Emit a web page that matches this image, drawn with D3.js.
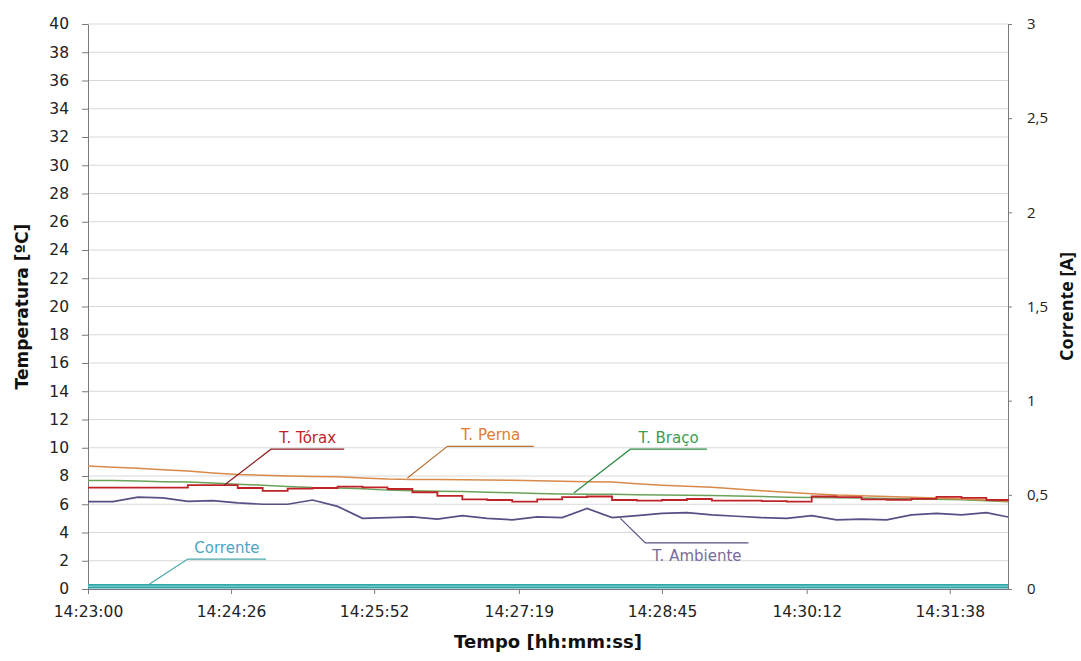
<!DOCTYPE html>
<html>
<head>
<meta charset="utf-8">
<script src="https://cdn.jsdelivr.net/npm/d3@7"></script>
<style>
  body { margin: 0; background: #fff; }
  svg { display: block; }
  .grid line { stroke: #d9d9d9; }
  .axis path, .axis line { stroke: #7a7a7a; }
  .axis text { fill: #222; }
</style>
</head>
<body>
<script>
// sample times (every 15 s)
var times = ["14:23:00","14:23:15","14:23:30","14:23:45","14:24:00","14:24:15","14:24:30","14:24:45",
  "14:25:00","14:25:15","14:25:30","14:25:45","14:26:00","14:26:15","14:26:30","14:26:45",
  "14:27:00","14:27:15","14:27:30","14:27:45","14:28:00","14:28:15","14:28:30","14:28:45",
  "14:29:00","14:29:15","14:29:30","14:29:45","14:30:00","14:30:15","14:30:30","14:30:45",
  "14:31:00","14:31:15","14:31:30","14:31:45","14:32:00","14:32:13"];

var tPerna = [8.70,8.62,8.55,8.45,8.35,8.22,8.10,8.05,8.00,7.96,7.95,7.85,7.78,7.76,7.75,7.73,
  7.72,7.70,7.66,7.62,7.60,7.58,7.45,7.35,7.28,7.20,7.08,6.95,6.85,6.75,6.65,6.60,
  6.55,6.50,6.45,6.38,6.30,6.22];
var tBraco = [7.68,7.68,7.65,7.60,7.58,7.50,7.42,7.35,7.25,7.18,7.15,7.10,7.00,6.96,6.92,6.90,
  6.85,6.82,6.76,6.72,6.70,6.70,6.68,6.66,6.64,6.62,6.58,6.55,6.50,6.48,6.46,6.44,
  6.40,6.38,6.36,6.32,6.25,6.18];
var tTorax = [7.17,7.17,7.17,7.17,7.36,7.36,7.15,6.94,7.10,7.15,7.25,7.20,7.08,6.85,6.60,6.35,
  6.30,6.18,6.35,6.50,6.55,6.30,6.25,6.30,6.37,6.25,6.25,6.22,6.18,6.55,6.50,6.35,
  6.32,6.38,6.52,6.45,6.30,6.25];
var tAmbiente = [6.18,6.18,6.50,6.45,6.20,6.25,6.10,6.00,6.00,6.30,5.85,5.00,5.05,5.10,4.95,5.20,
  5.00,4.90,5.10,5.05,5.70,5.05,5.20,5.35,5.40,5.25,5.15,5.05,5.00,5.20,4.90,4.95,
  4.90,5.25,5.35,5.25,5.40,5.10];
var corrente = [0.015,0.015,0.015,0.015,0.015,0.015,0.015,0.015,0.015,0.015,0.015,0.015,0.015,
  0.015,0.015,0.015,0.015,0.015,0.015,0.015,0.015,0.015,0.015,0.015,0.015,0.015,0.015,
  0.015,0.015,0.015,0.015,0.015,0.015,0.015,0.015,0.015,0.015,0.015];

var xTickLabels = ["14:23:00","14:24:26","14:25:52","14:27:19","14:28:45","14:30:12","14:31:38"];
var tempTicks = [0,2,4,6,8,10,12,14,16,18,20,22,24,26,28,30,32,34,36,38,40];
var ampTicks = [0,0.5,1,1.5,2,2.5,3];

// series labels: anchor on the line, elbow, end of underline (time, temperature)
var labelNames = ["T. Tórax","T. Perna","T. Braço","T. Ambiente","Corrente"];
var labelAnchor = [["14:24:22",7.36],["14:26:12",7.86],["14:27:52",6.8],["14:28:20",5.0],["14:23:37",0.35]];
var labelElbow = [["14:24:50",9.9],["14:26:36",10.1],["14:28:26",9.9],["14:28:35",3.26],["14:24:00",2.12]];
var labelEnd = ["14:25:34","14:27:28","14:29:12","14:29:37","14:24:47"];

var width = 1081, height = 661;
var margin = {top: 24, right: 73, bottom: 72, left: 88};
var parse = d3.timeParse("%H:%M:%S");

var svg = d3.select("body").append("svg")
  .attr("width", width)
  .attr("height", height);

var x = d3.scaleTime()
  .domain([parse("14:23:00"), parse("14:32:13")])
  .range([margin.left, width - margin.right]);
var y = d3.scaleLinear().domain([0, 40]).range([height - margin.bottom, margin.top]);
var y2 = d3.scaleLinear().domain([0, 3]).range([height - margin.bottom, margin.top]);

// gridlines
svg.append("g").attr("class", "grid")
  .selectAll("line")
  .data(tempTicks.slice(1))
  .enter().append("line")
  .attr("x1", x.range()[0]).attr("x2", x.range()[1])
  .attr("y1", function(d){ return y(d); })
  .attr("y2", function(d){ return y(d); });

// axes
var xAxis = svg.append("g").attr("class", "axis")
  .attr("transform", "translate(0," + y(0) + ")")
  .call(d3.axisBottom(x)
    .tickValues(xTickLabels.map(parse))
    .tickFormat(d3.timeFormat("%H:%M:%S"))
    .tickSizeInner(5).tickSizeOuter(0).tickPadding(12));
xAxis.selectAll("text").style("font-family", "DejaVu Sans").style("font-size", "15.5px");

var yAxis = svg.append("g").attr("class", "axis")
  .attr("transform", "translate(" + x.range()[0] + ",0)")
  .call(d3.axisLeft(y).tickValues(tempTicks).tickSizeInner(6).tickSizeOuter(0).tickPadding(13));
yAxis.selectAll("text").style("font-family", "DejaVu Sans").style("font-size", "15.5px");

var yAxis2 = svg.append("g").attr("class", "axis")
  .attr("transform", "translate(" + x.range()[1] + ",0)")
  .call(d3.axisRight(y2).tickValues(ampTicks)
    .tickFormat(function(d){ return String(d).replace(".", ","); })
    .tickSizeInner(4).tickSizeOuter(0).tickPadding(15));
yAxis2.selectAll("text").style("font-family", "Open Sans").style("font-size", "15px");

// series
var tLine = d3.line()
  .x(function(d, i){ return x(parse(times[i])); })
  .y(function(d){ return y(d); });
var aLine = d3.line()
  .x(function(d, i){ return x(parse(times[i])); })
  .y(function(d){ return y2(d); });

svg.append("path").datum(corrente)
  .attr("fill", "none").attr("stroke", "#2fa6a8").attr("stroke-width", 4.5)
  .attr("d", aLine);
svg.append("path").datum(corrente)
  .attr("fill", "none").attr("stroke", "#a8e0e0").attr("stroke-width", 0.8)
  .attr("d", aLine);

svg.append("path").datum(tAmbiente)
  .attr("fill", "none").attr("stroke", "#574f85").attr("stroke-width", 1.7)
  .attr("d", tLine);
svg.append("path").datum(tBraco)
  .attr("fill", "none").attr("stroke", "#6aa25a").attr("stroke-width", 1.5)
  .attr("d", tLine);
svg.append("path").datum(tPerna)
  .attr("fill", "none").attr("stroke", "#d98a4a").attr("stroke-width", 1.5)
  .attr("d", tLine);
svg.append("path").datum(tTorax)
  .attr("fill", "none").attr("stroke", "#bf2328").attr("stroke-width", 1.8)
  .attr("d", tLine.curve(d3.curveStepAfter));

// data labels with leader lines
var labelColors = ["#bf2328", "#e07c35", "#3c9c50", "#7a6a9c", "#4aa6c2"];
var lineColors = ["#8a1f1f", "#b8743a", "#2f8a45", "#5a4f80", "#4aa6a6"];
labelNames.forEach(function(name, i){
  var ax = x(parse(labelAnchor[i][0])), ay = y(labelAnchor[i][1]);
  var ex = x(parse(labelElbow[i][0])), ey = y(labelElbow[i][1]);
  var fx = x(parse(labelEnd[i]));
  svg.append("path")
    .attr("fill", "none")
    .attr("stroke", lineColors[i])
    .attr("stroke-width", 1.2)
    .attr("d", "M" + ax + "," + ay + "L" + ex + "," + ey + "L" + fx + "," + ey);
  var below = name === "T. Ambiente";
  svg.append("text")
    .attr("x", (ex + fx) / 2)
    .attr("y", below ? ey + 18 : ey - 6)
    .attr("text-anchor", "middle")
    .style("font-family", "DejaVu Sans")
    .style("font-size", "15px")
    .style("fill", labelColors[i])
    .text(name);
});

// axis titles
svg.append("text")
  .attr("transform", "translate(28," + ((y(0) + y(40)) / 2) + ") rotate(-90)")
  .attr("text-anchor", "middle")
  .style("font-family", "DejaVu Sans").style("font-weight", "bold").style("font-size", "17px")
  .style("fill", "#111")
  .text("Temperatura [ºC]");

svg.append("text")
  .attr("transform", "translate(1073," + ((y(0) + y(40)) / 2) + ") rotate(-90)")
  .attr("text-anchor", "middle")
  .style("font-family", "Open Sans").style("font-weight", "bold").style("font-size", "18px")
  .style("fill", "#111")
  .text("Corrente [A]");

svg.append("text")
  .attr("x", (x.range()[0] + x.range()[1]) / 2)
  .attr("y", 648)
  .attr("text-anchor", "middle")
  .style("font-family", "DejaVu Sans").style("font-weight", "bold").style("font-size", "18px")
  .style("fill", "#111")
  .text("Tempo [hh:mm:ss]");
</script>
</body>
</html>
